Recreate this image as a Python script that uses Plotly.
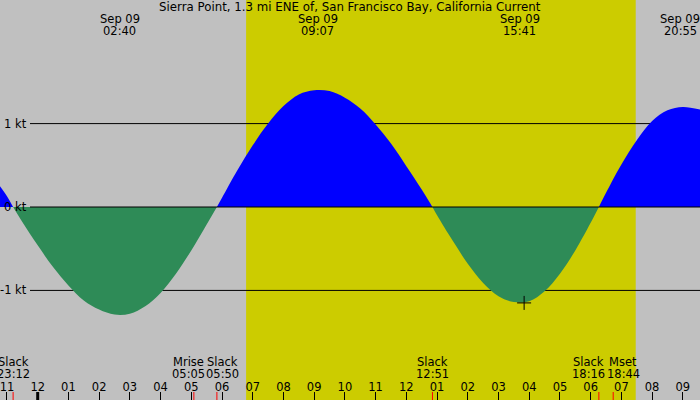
import pandas as pd
import plotly.graph_objects as go

# ---------------- data ----------------
BASE = "2024-09-09"
TITLE = "Sierra Point, 1.3 mi ENE of, San Francisco Bay, California Current"

# current curve, hours from midnight Sep 09, values in knots
flood0_t = [-1.227, -1.0, -0.8]
flood0_v = [0.25, 0.13, 0.0]

ebb1_t = [-0.8, -0.5, 0, 0.5, 1, 1.5, 2, 2.5, 3, 3.5, 4, 4.5, 5, 5.5, 5.833]
ebb1_v = [0, -0.18, -0.46, -0.72, -0.94, -1.12, -1.23, -1.29, -1.28, -1.19, -1.03, -0.80, -0.52, -0.21, 0]

flood2_t = [5.833, 6, 6.5, 7, 7.5, 8, 8.5, 9, 9.5, 10, 10.5, 11, 11.5, 12, 12.5, 12.85]
flood2_v = [0, 0.11, 0.44, 0.74, 1.00, 1.21, 1.35, 1.40, 1.39, 1.31, 1.18, 0.99, 0.76, 0.49, 0.21, 0]

ebb3_t = [12.85, 13, 13.5, 14, 14.5, 15, 15.5, 16, 16.5, 17, 17.5, 18, 18.267]
ebb3_v = [0, -0.10, -0.40, -0.68, -0.91, -1.07, -1.14, -1.13, -1.01, -0.80, -0.52, -0.19, 0]

flood4_t = [18.267, 18.5, 19, 19.5, 20, 20.5, 21.0, 21.56]
flood4_v = [0, 0.17, 0.51, 0.80, 1.03, 1.16, 1.20, 1.17]

# extremes labelled at top
peak_times = ["2024-09-09 02:40", "2024-09-09 09:07", "2024-09-09 15:41", "2024-09-09 20:55"]
peak_dates = ["Sep 09", "Sep 09", "Sep 09", "Sep 09"]
peak_clock = ["02:40", "09:07", "15:41", "20:55"]

# events labelled at bottom
event_times = ["2024-09-08 23:12", "2024-09-09 05:05", "2024-09-09 05:50",
               "2024-09-09 12:51", "2024-09-09 18:16", "2024-09-09 18:44"]
event_names = ["Slack", "Mrise", "Slack", "Slack", "Slack", "Mset"]
event_clock = ["23:12", "05:05", "05:50", "12:51", "18:16", "18:44"]

sunrise = "2024-09-09 06:47"
sunset = "2024-09-09 19:28"

marker_time = ["2024-09-09 15:50"]
marker_val = [-1.15]

kt_vals = [1, 0, -1]
kt_text = ["1 kt", "0 kt", "-1 kt"]

x_start_h, x_end_h = -1.2272, 21.559
y_range = [-2.314, 2.482]

# ---------------- styling ----------------
W, H = 700, 400
FONT = "DejaVu Sans"
FS = 11.5
GRAY = "#C0C0C0"
YELLOW = "#CCCC00"
BLUE = "#0000FF"
GREEN = "#2E8B57"
label_shift = [0, -5, 6, 0, -10, 10]


def to_ts(hours):
    return [pd.Timestamp(BASE) + pd.to_timedelta(h, unit="h") for h in hours]


fig = go.Figure()
segments = [(flood0_t, flood0_v, BLUE), (ebb1_t, ebb1_v, GREEN),
            (flood2_t, flood2_v, BLUE), (ebb3_t, ebb3_v, GREEN),
            (flood4_t, flood4_v, BLUE)]
for t, v, c in segments:
    fig.add_trace(go.Scatter(x=to_ts(t), y=v, mode="lines", fill="tozeroy",
                             line=dict(width=0, color=c, shape="spline"),
                             fillcolor=c, hoverinfo="skip", showlegend=False))

fig.add_trace(go.Scatter(x=marker_time, y=marker_val, mode="markers",
                         marker=dict(symbol="cross-thin", size=10,
                                     line=dict(width=1, color="black"), color="black"),
                         showlegend=False, hoverinfo="skip"))

shapes = []
shapes.append(dict(type="rect", xref="x", yref="paper", x0=sunrise, x1=sunset,
                   y0=0, y1=1, fillcolor=YELLOW, line=dict(width=0), layer="below"))
for v in kt_vals:
    shapes.append(dict(type="line", xref="paper", yref="y", x0=30 / W, x1=1, y0=v, y1=v,
                       line=dict(color="black", width=1),
                       layer="above" if v == 0 else "below"))
# midnight thick tick
shapes.append(dict(type="line", xref="x", yref="paper", x0=BASE, x1=BASE,
                   y0=0, y1=8 / H, line=dict(color="black", width=3)))
for et in event_times:
    shapes.append(dict(type="line", xref="x", yref="paper", x0=et, x1=et,
                       y0=0, y1=8 / H, line=dict(color="red", width=1)))

ann = []
ann.append(dict(text=TITLE, xref="paper", yref="paper", x=0.5, y=1 - 7 / H,
                xanchor="center", yanchor="middle", showarrow=False,
                font=dict(size=11.8)))
for t, d, c in zip(peak_times, peak_dates, peak_clock):
    ann.append(dict(text=d, xref="x", yref="paper", x=t, y=1 - 19 / H,
                    xanchor="center", yanchor="middle", showarrow=False))
    ann.append(dict(text=c, xref="x", yref="paper", x=t, y=1 - 31.5 / H,
                    xanchor="center", yanchor="middle", showarrow=False))
for t, n, c, s in zip(event_times, event_names, event_clock, label_shift):
    ann.append(dict(text=n, xref="x", yref="paper", x=t, y=1 - 361.5 / H, xshift=s,
                    xanchor="center", yanchor="middle", showarrow=False))
    ann.append(dict(text=c, xref="x", yref="paper", x=t, y=1 - 374 / H, xshift=s,
                    xanchor="center", yanchor="middle", showarrow=False))
for v, txt in zip(kt_vals, kt_text):
    ann.append(dict(text=txt, xref="paper", yref="y", x=28.5 / W, y=v,
                    xanchor="right", yanchor="middle", showarrow=False))

xr = to_ts([x_start_h, x_end_h])
fig.update_layout(
    width=W, height=H, margin=dict(l=0, r=0, t=0, b=0),
    paper_bgcolor=GRAY, plot_bgcolor=GRAY,
    font=dict(family=FONT, size=FS, color="black"),
    shapes=shapes, annotations=ann, showlegend=False,
    xaxis=dict(type="date", range=xr, showgrid=False, zeroline=False,
               ticks="inside", ticklen=8, tickwidth=1, tickcolor="black",
               tick0=BASE, dtick=3600000, tickformat="%I",
               ticklabelposition="inside", ticklabeloverflow="allow",
               ticklabelstandoff=-2,
               tickfont=dict(family=FONT, size=FS, color="black"),
               showline=False, fixedrange=True),
    yaxis=dict(range=y_range, visible=False, fixedrange=True),
)

fig.write_html("out.html", config={"displayModeBar": False},
               post_script="document.body.style.margin='0';document.body.style.overflow='hidden';")
